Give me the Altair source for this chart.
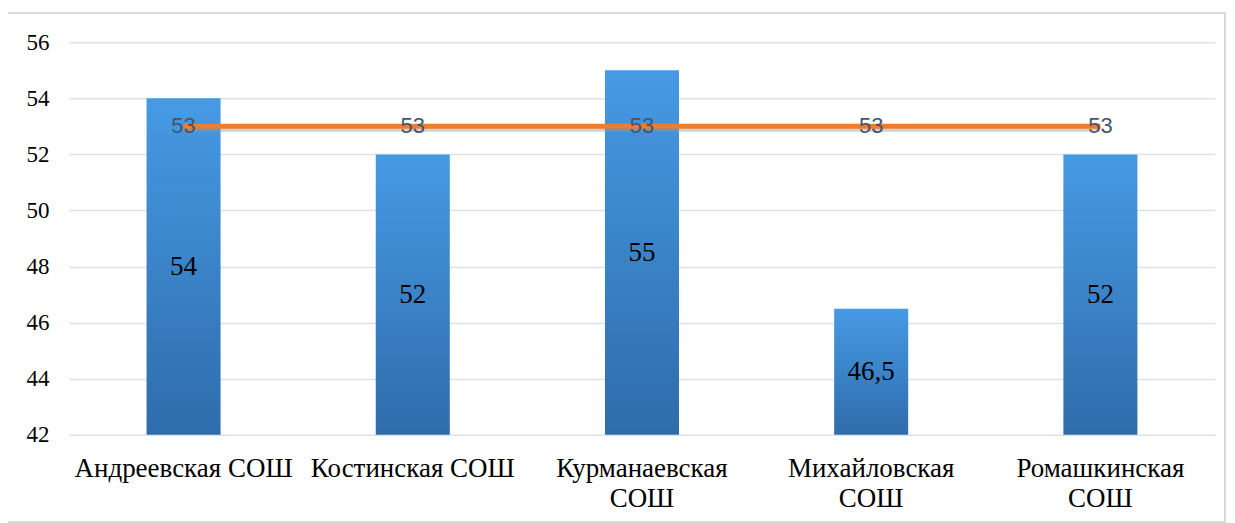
import altair as alt
import pandas as pd

schools = ["Андреевская СОШ", "Костинская СОШ", "Курманаевская СОШ", "Михайловская СОШ", "Ромашкинская СОШ"]
scores = [54, 52, 55, 46.5, 52]
district = [53, 53, 53, 53, 53]
labels = ["54", "52", "55", "46,5", "52"]

df = pd.DataFrame({"school": schools, "score": scores, "district": district, "label": labels})

W, H = 1147, 393
serif = "Liberation Serif, Times New Roman, serif"

x = alt.X("school:N", sort=schools, title=None,
          scale=alt.Scale(paddingInner=0.677, paddingOuter=0.3385),
          axis=alt.Axis(labelAngle=0, labelFont=serif, labelFontSize=27, labelColor="#000000",
                        labelPadding=21, labelLineHeight=30, domain=False, ticks=False,
                        labelLimit=300,
                        labelExpr="length(datum.label) > 15 ? split(datum.label, ' ') : datum.label"))
yscale = alt.Scale(domain=[42, 56], nice=False, zero=False)

base = alt.Chart(df)

bars = base.mark_bar(
    color=alt.Gradient(gradient="linear", x1=0, x2=0, y1=0, y2=1,
                       stops=[alt.GradientStop(color="#469ae4", offset=0),
                              alt.GradientStop(color="#2f6cab", offset=1)])
).encode(
    x=x,
    y=alt.Y("score:Q", scale=yscale, title=None,
            axis=alt.Axis(values=[42, 44, 46, 48, 50, 52, 54, 56], labelFont=serif, labelFontSize=23,
                          labelColor="#000000", labelPadding=20, domain=False, ticks=False,
                          gridColor="#dce2ea", gridWidth=1.5)),
    y2=alt.datum(42),
)

bar_text = base.transform_calculate(mid="(datum.score + 42) / 2").mark_text(
    font=serif, fontSize=27, color="#000000", baseline="middle"
).encode(x=x, y=alt.Y("mid:Q", scale=yscale), text="label:N")

shadow = base.mark_line(color="#9a9a9a", strokeWidth=5, opacity=0.45).encode(
    x=x, y=alt.Y("district:Q", scale=yscale), yOffset=alt.value(3))

line = base.mark_line(color="#ed7d31", strokeWidth=5).encode(
    x=x, y=alt.Y("district:Q", scale=yscale))

line_text = base.mark_text(font="Liberation Sans, Arial, sans-serif", fontSize=22, color="#44546a",
                           baseline="middle").encode(
    x=x, y=alt.Y("district:Q", scale=yscale), text=alt.Text("district:Q"))

border = base.mark_rect(fill=None, stroke="#d9d9d9", strokeWidth=1.5, clip=False).encode(
    x=alt.value(-62), x2=alt.value(1157), y=alt.value(-29), y2=alt.value(480))

chart = alt.layer(border, bars, bar_text, shadow, line, line_text).properties(
    width=W, height=H,
    autosize=alt.AutoSizeParams(type="none"),
    padding={"left": 61, "top": 34, "right": 12, "bottom": 88},
).configure_view(stroke=None)

chart.save("out.html", embed_options={"renderer": "svg", "actions": False})
